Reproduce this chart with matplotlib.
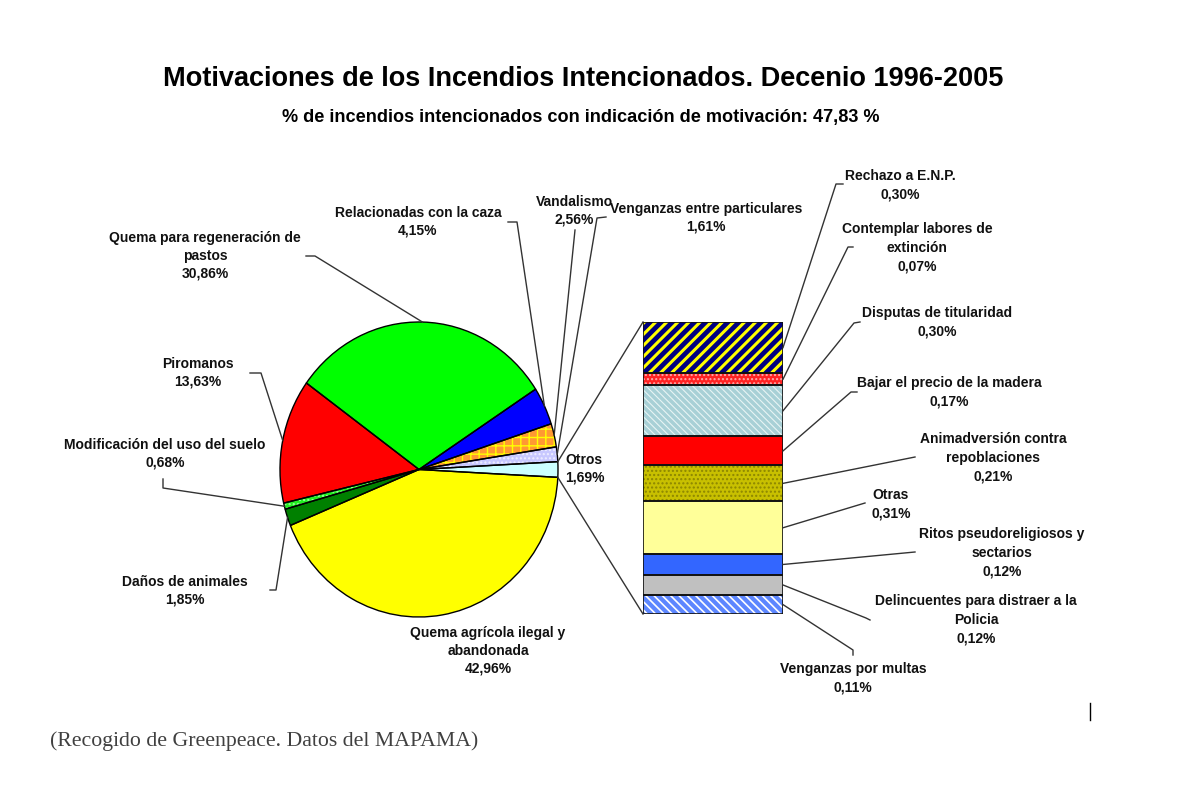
import math
import matplotlib
matplotlib.use("Agg")
import matplotlib.pyplot as plt
from matplotlib import font_manager

W, H = 1179, 789

# --- data -----------------------------------------------------------------
pie_labels = [
    "Quema agrícola ilegal y\nabandonada",
    "Daños de animales",
    "Modificación del uso del suelo",
    "Piromanos",
    "Quema para regeneración de\npastos",
    "Relacionadas con la caza",
    "Vandalismo",
    "Venganzas entre particulares",
    "Otros",
]
pie_values = [42.96, 1.85, 0.68, 13.63, 30.86, 4.15, 2.56, 1.61, 1.69]

bar_labels = [
    "Rechazo a E.N.P.",
    "Contemplar labores de\nextinción",
    "Disputas de titularidad",
    "Bajar el precio de la madera",
    "Animadversión contra\nrepoblaciones",
    "Otras",
    "Ritos pseudoreligiosos y\nsectarios",
    "Delincuentes para distraer a la\nPolicia",
    "Venganzas por multas",
]
bar_values = [0.30, 0.07, 0.30, 0.17, 0.21, 0.31, 0.12, 0.12, 0.11]

title = "Motivaciones de los Incendios Intencionados. Decenio 1996-2005"
subtitle = "% de incendios intencionados con indicación de motivación: 47,83 %"
source = "(Recogido de Greenpeace. Datos del MAPAMA)"

# --- styles ---------------------------------------------------------------
pie_colors = ["#FFFF00", "#008000", "#22EE22", "#FF0000", "#00FF00",
              "#0000FF", "#FF9933", "#C8C8FF", "#CCFFFF"]
pie_hatch = [None, None, "....", None, None, None, "++", "....", None]
pie_hatch_col = ["none", "none", "#99FF99", "none", "none", "none",
                 "#FFFF00", "#EEEEFF", "none"]

bar_colors = ["#000080", "#FF2222", "#A8D0D6", "#FF0000", "#C8C000",
              "#FFFF99", "#3366FF", "#C0C0C0", "#5C86FF"]
bar_hatch = ["///", "....", "\\\\\\\\\\", None, "....", None, None, None, "\\\\\\\\"]
bar_hatch_col = ["#FFFF00", "#FFAAAA", "#E8F4F4", "none", "#8C8600",
                 "none", "none", "none", "#FFFFFF"]
bar_hatch_lw = [2.2, 1.0, 0.8, 1.0, 1.0, 1.0, 1.0, 1.0, 1.2]

# label centres (pixels) and leader start/elbow points
pie_text_pos = [(488, 651), (185, 591), (165, 454), (198, 373), (205, 256),
                (418, 222), (574, 211), (706, 218), (565, 469)]
pie_leader = [None, [(270, 590), (276, 590)], [(163, 479), (163, 488)],
              [(250, 373), (261, 373)], [(306, 256), (315, 256)],
              [(508, 222), (517, 222)], [(575, 230)],
              [(606, 217), (597, 218)], None]

bar_text_pos = [(900, 185), (917, 248), (937, 322), (949, 392), (993, 458),
                (891, 504), (1002, 553), (976, 620), (853, 678)]
bar_leader = [[(843, 184), (836, 184)], [(853, 247), (848, 247)],
              [(860, 322), (854, 323)], [(857, 392), (851, 392)],
              [(915, 457)], [(865, 503)], [(915, 552)],
              [(870, 620), (866, 618)], [(853, 655), (853, 650)]]

LINE = "#333333"


def pct(v):
    return f"{v:.2f}".replace(".", ",") + "%"


names = {f.name for f in font_manager.fontManager.ttflist}
if "Liberation Sans Narrow" in names:
    head_family, title_size, sub_size = "Liberation Sans Narrow", 21, 14.5
else:
    head_family, title_size, sub_size = "Liberation Sans", 19.5, 13.1

plt.rcParams["font.family"] = ["Liberation Sans", "DejaVu Sans"]
plt.rcParams["hatch.linewidth"] = 1.0

fig = plt.figure(figsize=(W / 100, H / 100), dpi=100)
fig.patch.set_facecolor("white")


def box(x0, y0, x1, y1):
    return [x0 / W, (H - y1) / H, (x1 - x0) / W, (y1 - y0) / H]


# --- pie --------------------------------------------------------------------
ax_pie = fig.add_axes(box(280, 322, 558, 617))
start = -pie_values[-1] * 3.6 / 2
kw = dict(startangle=start, counterclock=False, radius=1.0)
ax_pie.pie(pie_values, colors=pie_colors,
           wedgeprops=dict(linewidth=0), **kw)
hatched, _ = ax_pie.pie(pie_values, colors=["none"] * len(pie_values),
                        wedgeprops=dict(linewidth=0), **kw)
for w, h, c in zip(hatched, pie_hatch, pie_hatch_col):
    w.set_facecolor("none")
    if h:
        w.set_hatch(h)
        w.set_edgecolor(c)
    else:
        w.set_visible(False)
outl, _ = ax_pie.pie(pie_values, colors=["none"] * len(pie_values),
                     wedgeprops=dict(linewidth=1.0, edgecolor="black"), **kw)
for w in outl:
    w.set_facecolor("none")
ax_pie.set_aspect("auto")
ax_pie.set_xlim(-1, 1)
ax_pie.set_ylim(-1, 1)
ax_pie.axis("off")

# --- stacked bar ----------------------------------------------------------
total = sum(bar_values)
ax_bar = fig.add_axes(box(643, 322, 783, 614))
bottoms = [sum(bar_values[:i]) for i in range(len(bar_values))]
ax_bar.bar([0.5] * len(bar_values), bar_values, width=1.0, bottom=bottoms,
           color=bar_colors, linewidth=0)
hb = ax_bar.bar([0.5] * len(bar_values), bar_values, width=1.0, bottom=bottoms,
                color="none", linewidth=0)
for p, h, c, lw in zip(hb, bar_hatch, bar_hatch_col, bar_hatch_lw):
    if h:
        p.set_hatch(h)
        p.set_edgecolor(c)
        if hasattr(p, "set_hatch_linewidth"):
            p.set_hatch_linewidth(lw)
    else:
        p.set_visible(False)
ax_bar.bar([0.5] * len(bar_values), bar_values, width=1.0, bottom=bottoms,
           color="none", edgecolor="#111111", linewidth=1.2)
ax_bar.set_xlim(0, 1)
ax_bar.set_ylim(total, 0)
ax_bar.axis("off")

# --- overlay for text and lines -----------------------------------------
ax = fig.add_axes([0, 0, 1, 1])
ax.set_xlim(0, W)
ax.set_ylim(H, 0)
ax.axis("off")
ax.patch.set_visible(False)


def to_px(src_ax, pt):
    return ax.transData.inverted().transform(src_ax.transData.transform(pt))


ang = start
pie_edge = []
for v in pie_values:
    a1 = ang - v * 3.6
    mid = math.radians((ang + a1) / 2)
    pie_edge.append(to_px(ax_pie, (math.cos(mid), math.sin(mid))))
    ang = a1

for lab, v, pos, lead, edge in zip(pie_labels, pie_values, pie_text_pos,
                                   pie_leader, pie_edge):
    ha = "left" if lab == "Otros" else "center"
    ax.text(pos[0], pos[1], lab + "\n" + pct(v), ha=ha, va="center",
            fontsize=10, fontweight="bold", linespacing=1.33, color="#111111")
    if lead:
        xs = [p[0] for p in lead] + [edge[0]]
        ys = [p[1] for p in lead] + [edge[1]]
        ax.plot(xs, ys, color=LINE, lw=1.0)

for lab, v, pos, lead, b in zip(bar_labels, bar_values, bar_text_pos,
                                bar_leader, bottoms):
    ax.text(pos[0], pos[1], lab + "\n" + pct(v), ha="center", va="center",
            fontsize=10, fontweight="bold", linespacing=1.45, color="#111111")
    end = to_px(ax_bar, (1.0, b + v / 2))
    xs = [p[0] for p in lead] + [end[0]]
    ys = [p[1] for p in lead] + [end[1]]
    ax.plot(xs, ys, color=LINE, lw=1.0)

# connectors pie -> bar
half = math.radians(pie_values[-1] * 3.6 / 2)
for sgn, yb in ((1, 0.0), (-1, total)):
    p0 = to_px(ax_pie, (math.cos(half), sgn * math.sin(half)))
    p1 = to_px(ax_bar, (0.0, yb))
    ax.plot([p0[0], p1[0]], [p0[1], p1[1]], color=LINE, lw=1.0)

ax.text(583, 79, title, ha="center", va="center", fontsize=title_size,
        fontweight="bold", family=[head_family, "Liberation Sans"])
ax.text(581, 117, subtitle, ha="center", va="center", fontsize=sub_size,
        fontweight="bold", family=[head_family, "Liberation Sans"])
ax.text(50, 741, source, ha="left", va="center", fontsize=15.7,
        family=["Liberation Serif", "DejaVu Serif"], color="#404040")
ax.plot([1090, 1090], [703, 720], color="black", lw=1.0)

fig.savefig("out.png", dpi=100, facecolor="white")
